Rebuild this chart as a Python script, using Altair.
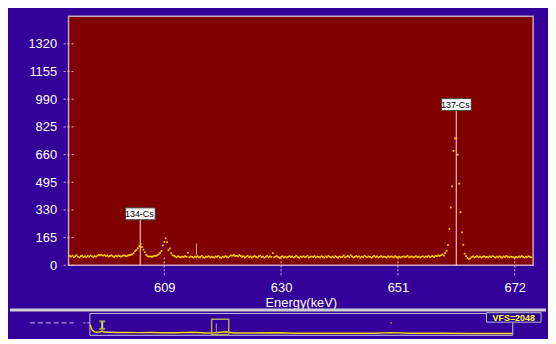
import altair as alt
import pandas as pd

# ---- main spectrum (zoomed window) ----
x_ticks = [609, 630, 651, 672]
y_ticks = [0, 165, 330, 495, 660, 825, 990, 1155, 1320]

start_energy = 592.0
channel_width = 0.25
counts = [
    56, 52, 58, 49, 54, 60, 51, 47, 55, 57, 50, 53, 48, 56, 52, 59, 54, 49, 55, 51,
    58, 62, 60, 63, 57, 61, 55, 59, 52, 56, 60, 54, 50, 57, 53, 58, 55, 51, 56, 60,
    57, 54, 59, 61, 62, 66, 72, 84, 92, 102, 114, 128, 108, 93, 78, 62, 55, 51, 54, 50,
    53, 57, 56, 60, 66, 74, 85, 118, 140, 161, 138, 90, 100, 72, 60, 56, 52, 48, 54, 50,
    47, 52, 49, 55, 51, 75, 48, 53, 50, 46, 52, 49, 54, 47, 51, 56, 48, 45, 52, 50,
    54, 47, 51, 49, 45, 53, 50, 56, 48, 44, 52, 49, 55, 51, 47, 53, 60, 57, 62, 55,
    58, 53, 61, 56, 50, 54, 48, 52, 57, 49, 53, 46, 51, 55, 50, 47, 54, 58, 49, 52,
    45, 51, 56, 48, 53, 50, 73, 47, 52, 55, 49, 44, 51, 54, 48, 52, 46, 50, 55, 49,
    53, 47, 51, 56, 49, 45, 52, 50, 54, 48, 51, 57, 46, 50, 53, 49, 55, 47, 52, 50,
    48, 54, 50, 45, 53, 49, 56, 51, 47, 52, 48, 55, 50, 46, 53, 49, 51, 58, 47, 52,
    55, 49, 60, 53, 47, 51, 56, 50, 54, 46, 52, 49, 57, 51, 48, 53, 50, 45, 52, 56,
    49, 53, 47, 51, 55, 48, 52, 50, 46, 54, 49, 53, 51, 47, 55, 50, 48, 52, 46, 51,
    54, 49, 52, 57, 48, 51, 53, 47, 50, 55, 49, 52, 46, 51, 54, 48, 53, 50, 56, 49,
    52, 55, 50, 57, 54, 59, 56, 60, 65, 58, 73, 87, 120, 217, 345, 471, 682, 757, 757, 660,
    487, 317, 197, 122, 69, 55, 44, 38, 41, 49, 53, 47, 50, 55, 48, 52, 46, 51, 54, 49,
    50, 47, 53, 49, 55, 51, 46, 52, 48, 54, 50, 45, 53, 49, 56, 51, 47, 52, 50, 48,
    44, 51, 47, 53, 49, 55, 50, 46, 52, 48, 54, 50, 47,
]
energies = [start_energy + channel_width * i for i in range(len(counts))]

label_names = ["134-Cs", "137-Cs"]
label_energies = [604.7, 661.5]
label_counts = [307, 958]

roi_energy = [614.8]
roi_low = [60]
roi_high = [130]

# ---- overview (full spectrum) ----
ov_energy = [4, 8, 12, 16, 20, 26, 34, 45, 55, 62, 70, 85, 100, 130, 170, 240, 300, 350,
             420, 505, 560, 609, 662, 700, 800, 911, 1000, 1120, 1250, 1380, 1461, 1550,
             1700, 1850, 2000, 2048]
ov_counts = [560, 420, 300, 230, 190, 160, 145, 150, 165, 200, 150, 140, 135, 130, 125, 120,
             125, 115, 110, 140, 105, 115, 170, 100, 95, 110, 90, 92, 88, 85, 120, 82, 80,
             78, 76, 75]
window_lo, window_hi = 592, 675
cursor_energy = [62]
cursor_lo, cursor_hi = [330], [740]
k40_energy = [1461]
k40_count = [650]
vfs_text = ["VFS=2048"]

BLUE = "#330099"
MAROON = "#800000"
WHITE = "#ffffff"
FONT = "Liberation Sans"

x_axis = alt.Axis(values=x_ticks, title="Energy(keV)", labelColor=WHITE, labelFontSize=13,
                  labelFont=FONT, titleFont=FONT, titleFontSize=13, titleFontWeight="normal",
                  titleColor=WHITE, domain=False, ticks=False, grid=False, labelPadding=16,
                  titlePadding=2, labelFlush=False, format="d")
y_axis = alt.Axis(values=y_ticks, title=None, labelColor=WHITE, labelFontSize=13,
                  labelFont=FONT, domain=False, ticks=False, grid=False, labelPadding=12,
                  format="d")

x_enc = alt.X("energy:Q", scale=alt.Scale(domain=[591.8, 675.3], nice=False, zero=False),
              axis=x_axis)
y_enc = alt.Y("count:Q", scale=alt.Scale(domain=[0, 1485], nice=False, zero=True), axis=y_axis)

spec_df = pd.DataFrame({"energy": energies, "count": counts})
lab_df = pd.DataFrame({"energy": label_energies, "count": label_counts, "name": label_names,
                       "zero": [0] * len(label_names)})
roi_df = pd.DataFrame({"energy": roi_energy, "count": roi_low, "top": roi_high})
ytick_df = pd.DataFrame({"count": y_ticks})
xtick_df = pd.DataFrame({"energy": x_ticks})

ytick_layer = alt.Chart(ytick_df).mark_rule(color="#f0c0c8", strokeDash=[2, 2], strokeWidth=1).encode(
    y=y_enc, x=alt.value(-5), x2=alt.value(7))
xtick_layer = alt.Chart(xtick_df).mark_rule(color="#d8c8f0", strokeDash=[2, 2], strokeWidth=1).encode(
    x=x_enc, y=alt.value(243), y2=alt.value(261))
label_rules = alt.Chart(lab_df).mark_rule(color="#e8b0b0", strokeWidth=1.3).encode(
    x=x_enc, y=alt.Y("zero:Q", scale=alt.Scale(domain=[0, 1485], nice=False), axis=y_axis),
    y2="count:Q")
roi_layer = alt.Chart(roi_df).mark_rule(color="#d0a060", strokeWidth=1).encode(
    x=x_enc, y=y_enc, y2="top:Q")
points = alt.Chart(spec_df).mark_square(size=3, color="#ffd700", opacity=1).encode(x=x_enc, y=y_enc)
boxes = alt.Chart(lab_df).mark_point(shape="M-1,-0.4L1,-0.4L1,0.4L-1,0.4Z", size=900, filled=True,
                                     fill=WHITE, stroke="#404040", strokeWidth=1, opacity=1).encode(
    x=x_enc, y=y_enc)
texts = alt.Chart(lab_df).mark_text(fontSize=9, font=FONT, fill="#000000", dx=-1).encode(
    x=x_enc, y=y_enc, text="name:N")

main = alt.layer(ytick_layer, xtick_layer, label_rules, roi_layer, points, boxes, texts).properties(
    width=468, height=251,
    view=alt.ViewBackground(fill=MAROON, stroke="#c8a8c0", strokeWidth=1.5))

# overview chart
ox = alt.X("e:Q", scale=alt.Scale(domain=[0, 2048], nice=False, zero=True), axis=None)
oy = alt.Y("c:Q", scale=alt.Scale(domain=[0, 1200], nice=False, zero=True), axis=None)

ov_df = pd.DataFrame({"e": ov_energy, "c": ov_counts})
win_df = pd.DataFrame({"e": [window_lo], "e2": [window_hi], "c": [0], "c2": [850]})
cur_df = pd.DataFrame({"e": cursor_energy, "c": cursor_lo, "c2": cursor_hi})
cur_caps = pd.DataFrame({"e": cursor_energy * 2, "c": cursor_lo + cursor_hi})
roi_ov = pd.DataFrame({"e": roi_energy, "c": [100], "c2": [620]})
k40_df = pd.DataFrame({"e": k40_energy, "c": k40_count})
vfs_df = pd.DataFrame({"e": [2048], "t": vfs_text})
one = pd.DataFrame({"a": [0]})

sep = alt.Chart(one).mark_rule(color="#d0d0d0", strokeWidth=3).encode(
    x=alt.value(-80), x2=alt.value(460), y=alt.value(-3))
left_dash = alt.Chart(one).mark_rule(color="#c8c0e8", strokeDash=[5, 3], strokeWidth=1).encode(
    x=alt.value(-60), x2=alt.value(-16), y=alt.value(10))
left_dash2 = alt.Chart(one).mark_rule(color="#c8c0e8", strokeDash=[2, 2], strokeWidth=1).encode(
    x=alt.value(-6), x2=alt.value(0), y=alt.value(10))
ov_line = alt.Chart(ov_df).mark_line(color="#f0e000", strokeWidth=1.5).encode(x=ox, y=oy)
win = alt.Chart(win_df).mark_rect(fill=None, stroke="#a8a858", strokeWidth=1.5).encode(
    x=ox, x2="e2:Q", y=oy, y2="c2:Q")
cur = alt.Chart(cur_df).mark_rule(color="#c8e040", strokeWidth=2).encode(x=ox, y=oy, y2="c2:Q")
caps = alt.Chart(cur_caps).mark_tick(color="#c8e040", orient="horizontal", size=6, thickness=2).encode(
    x=ox, y=oy)
roi_o = alt.Chart(roi_ov).mark_rule(color="#c0a040", strokeWidth=1).encode(x=ox, y=oy, y2="c2:Q")
k40 = alt.Chart(k40_df).mark_square(size=3, color="#d0a040").encode(x=ox, y=oy)
vfs_box = alt.Chart(vfs_df).mark_point(shape="M-1,-0.173L1,-0.173L1,0.173L-1,0.173Z", size=3025,
                                       filled=True, fill="#2a0088", stroke="#c0b8d8",
                                       strokeWidth=1, opacity=1, xOffset=1.5).encode(
    x=ox, y=alt.value(4.5))
vfs_txt = alt.Chart(vfs_df).mark_text(fontSize=9, font=FONT, fontWeight="bold", fill="#ffff40",
                                      xOffset=1.5).encode(x=ox, y=alt.value(5), text="t:N")

overview = alt.layer(sep, left_dash, left_dash2, ov_line, win, cur, caps, roi_o, k40,
                     vfs_box, vfs_txt).properties(
    width=426, height=22,
    view=alt.ViewBackground(fill=BLUE, stroke="#c8c0e8", strokeWidth=1))

chart = alt.vconcat(main, overview, spacing=48, bounds="flush", center=True).properties(
    background=BLUE, padding={"left": 0, "top": 6, "right": 0, "bottom": 0})

chart.save("out.html", embed_options={"renderer": "svg", "actions": False})
